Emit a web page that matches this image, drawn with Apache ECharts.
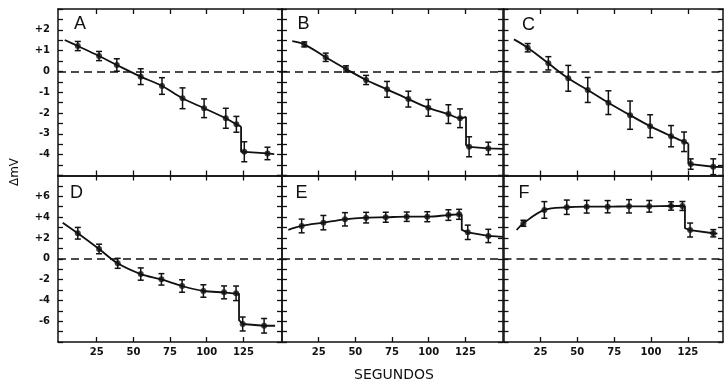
<!DOCTYPE html>
<html>
<head>
<meta charset="utf-8">
<script src="https://cdn.jsdelivr.net/npm/echarts@6/dist/echarts.min.js"></script>
<style>
html, body { margin: 0; padding: 0; background: #fff; }
#chart { width: 727px; height: 381px; }
</style>
</head>
<body>
<div id="chart"></div>
<script>
// values (seconds, mV, +/- error)
const timesA = [12.1, 26.6, 38.7, 55.0, 69.5, 83.5, 98.2, 113.0, 120.2, 125.6, 141.4];
const meanA = [1.22, 0.74, 0.31, -0.25, -0.70, -1.29, -1.77, -2.25, -2.54, -3.86, -3.94];
const errA = [0.22, 0.22, 0.3, 0.38, 0.4, 0.5, 0.45, 0.48, 0.38, 0.48, 0.3];

const timesB = [15.2, 29.8, 43.6, 57.3, 71.6, 86.1, 99.7, 113.4, 121.3, 127.5, 140.6];
const meanB = [1.30, 0.68, 0.12, -0.41, -0.86, -1.33, -1.75, -2.05, -2.25, -3.62, -3.70];
const errB = [0.12, 0.2, 0.15, 0.22, 0.38, 0.38, 0.4, 0.45, 0.45, 0.48, 0.3];

const timesC = [16.4, 30.4, 43.9, 57.1, 71.1, 85.8, 99.4, 113.6, 122.4, 126.9, 142.2];
const meanC = [1.14, 0.39, -0.33, -0.89, -1.50, -2.10, -2.63, -3.11, -3.38, -4.45, -4.58];
const errC = [0.2, 0.32, 0.62, 0.6, 0.57, 0.68, 0.55, 0.51, 0.47, 0.25, 0.38];

const timesD = [12.1, 26.6, 39.3, 55.0, 69.1, 83.2, 97.7, 111.8, 120.0, 124.5, 139.1];
const meanD = [2.45, 0.94, -0.44, -1.47, -1.98, -2.62, -3.10, -3.23, -3.32, -6.27, -6.44];
const errD = [0.56, 0.46, 0.48, 0.59, 0.55, 0.6, 0.6, 0.62, 0.7, 0.67, 0.7];

const timesE = [13.4, 28.2, 42.9, 57.3, 70.7, 85.0, 99.0, 113.4, 120.7, 126.6, 140.6];
const meanE = [3.15, 3.47, 3.79, 3.95, 3.99, 4.04, 4.04, 4.20, 4.27, 2.54, 2.19];
const errE = [0.66, 0.69, 0.64, 0.51, 0.48, 0.45, 0.48, 0.51, 0.48, 0.69, 0.64];

const timesF = [13.5, 27.7, 42.9, 56.4, 70.6, 85.1, 98.8, 113.6, 121.3, 126.5, 142.2];
const meanF = [3.41, 4.69, 4.95, 5.0, 5.0, 5.04, 5.04, 5.07, 5.07, 2.76, 2.45];
const errF = [0.29, 0.8, 0.69, 0.61, 0.59, 0.64, 0.56, 0.4, 0.43, 0.67, 0.35];

// fitted curve: start knot, drop [x, before, after], end knot
const fitStartA = [3.2, 1.51], dropA = [123.4, -2.65, -3.86], fitEndA = [146, -3.97];
const fitStartB = [7.0, 1.46], dropB = [125.4, -2.18, -3.54], fitEndB = [150.6, -3.72];
const fitStartC = [7.1, 1.54], dropC = [125.3, -3.46, -4.42], fitEndC = [148.8, -4.6];
const fitStartD = [1.8, 3.47], dropD = [122, -3.32, -5.9], fitEndD = [146.6, -6.44];
const fitStartE = [4.3, 2.77], dropE = [122.5, 4.27, 2.77], fitEndE = [150.6, 2.1];
const fitStartF = [8.9, 2.76], dropF = [123, 5.07, 2.93], fitEndF = [145, 2.42];

const xTicks = [25, 50, 75, 100, 125];
const panelNames = ['A', 'B', 'C', 'D', 'E', 'F'];

// layout
const cols = [
  { left: 58, width: 224, min: -1.4, max: 151.3 },
  { left: 282, width: 221, min: 0, max: 150.6 },
  { left: 503.5, width: 219.5, min: 0, max: 148.8 }
];
const rows = [
  { top: 9, height: 166.5, min: -5, max: 3, interval: 0.5, lo: -4, hi: 2, step: 1 },
  { top: 175.5, height: 166.5, min: -8, max: 8, interval: 1, lo: -6, hi: 6, step: 2 }
];
const letterPos = [[80, 24], [303.5, 24], [528.5, 25], [76.5, 193.5], [301.5, 193.5], [524, 193.5]];

const INK = '#111';
const FONT = 'DejaVu Sans';

const panels = [
  [timesA, meanA, errA, fitStartA, dropA, fitEndA],
  [timesB, meanB, errB, fitStartB, dropB, fitEndB],
  [timesC, meanC, errC, fitStartC, dropC, fitEndC],
  [timesD, meanD, errD, fitStartD, dropD, fitEndD],
  [timesE, meanE, errE, fitStartE, dropE, fitEndE],
  [timesF, meanF, errF, fitStartF, dropF, fitEndF]
];

function signed(v) {
  if (v > 0) return '+' + v;
  return String(v);
}

function renderErr(params, api) {
  const x = api.value(0), y = api.value(1), e = api.value(2);
  const a = api.coord([x, y + e]);
  const b = api.coord([x, y - e]);
  const c = 3;
  const st = { stroke: INK, lineWidth: 1.5 };
  return {
    type: 'group',
    children: [
      { type: 'line', shape: { x1: a[0], y1: a[1], x2: b[0], y2: b[1] }, style: st },
      { type: 'line', shape: { x1: a[0] - c, y1: a[1], x2: a[0] + c, y2: a[1] }, style: st },
      { type: 'line', shape: { x1: b[0] - c, y1: b[1], x2: b[0] + c, y2: b[1] }, style: st }
    ]
  };
}

const grid = [], xAxis = [], yAxis = [], series = [], graphic = [];

panels.forEach(function (p, i) {
  const row = rows[Math.floor(i / 3)];
  const col = cols[i % 3];
  const first = i % 3 === 0;
  const bottom = i >= 3;
  grid.push({ left: col.left, top: row.top, width: col.width, height: row.height, outerBoundsMode: 'none' });

  const line = { show: true, onZero: false, lineStyle: { color: INK, width: 1.5 } };
  const tick = { show: true, inside: true, length: 5, lineStyle: { color: INK, width: 1.3 } };
  const lab = { color: INK, fontFamily: FONT, fontWeight: 'bold', fontSize: 10 };

  ['bottom', 'top'].forEach(function (pos) {
    xAxis.push({
      type: 'value', gridIndex: i, position: pos, min: col.min, max: col.max,
      axisLine: line,
      axisTick: Object.assign({ customValues: xTicks }, tick),
      axisLabel: Object.assign({ show: bottom && pos === 'bottom', customValues: xTicks, margin: 5 }, lab),
      splitLine: { show: false }
    });
  });
  ['left', 'right'].forEach(function (pos) {
    yAxis.push({
      type: 'value', gridIndex: i, position: pos, min: row.min, max: row.max, interval: row.interval,
      axisLine: line,
      axisTick: tick,
      axisLabel: Object.assign({
        show: first && pos === 'left', margin: 8,
        formatter: function (v) {
          const r = Math.round(v * 100) / 100;
          if (r < row.lo || r > row.hi) return '';
          if (Math.abs(r / row.step - Math.round(r / row.step)) > 1e-6) return '';
          return signed(r);
        }
      }, lab),
      splitLine: { show: false }
    });
  });

  const t = p[0], m = p[1], e = p[2], start = p[3], drop = p[4], end = p[5];
  const pre = [start];
  for (let k = 0; k < 9; k++) pre.push([t[k], m[k]]);
  pre.push([drop[0], drop[1]]);
  const post = [[drop[0], drop[1]], [drop[0], drop[2]]];
  for (let k = 9; k < t.length; k++) post.push([t[k], m[k]]);
  post.push(end);

  const ax = { xAxisIndex: 2 * i, yAxisIndex: 2 * i };
  series.push(Object.assign({
    type: 'line', data: pre, smooth: 0.35, symbol: 'none',
    lineStyle: { color: INK, width: 1.8 }, z: 3
  }, ax));
  series.push(Object.assign({
    type: 'line', data: post, smooth: false, symbol: 'none',
    lineStyle: { color: INK, width: 1.8 }, z: 3
  }, ax));
  series.push(Object.assign({
    type: 'custom', renderItem: renderErr,
    data: t.map(function (x, k) { return [x, m[k], e[k]]; }),
    encode: { x: 0, y: 1 }, z: 4
  }, ax));
  series.push(Object.assign({
    type: 'scatter', symbol: 'circle', symbolSize: 6,
    data: t.map(function (x, k) { return [x, m[k]]; }),
    itemStyle: { color: INK }, z: 5,
    markLine: {
      silent: true, symbol: 'none', label: { show: false },
      lineStyle: { color: INK, width: 1.5, type: [8, 5] },
      data: [{ yAxis: 0 }]
    }
  }, ax));

  graphic.push({
    type: 'text', x: letterPos[i][0], y: letterPos[i][1],
    style: { text: panelNames[i], font: '18px "Liberation Sans"', fill: INK, textAlign: 'center', textVerticalAlign: 'middle' }
  });
});

graphic.push({
  type: 'text', x: 15, y: 172, rotation: Math.PI / 2,
  style: { text: 'ΔmV', font: '12px "DejaVu Sans"', fill: INK, textAlign: 'center', textVerticalAlign: 'middle' }
});
graphic.push({
  type: 'text', x: 394, y: 375,
  style: { text: 'SEGUNDOS', font: '14px "DejaVu Sans"', fill: INK, textAlign: 'center', textVerticalAlign: 'middle' }
});

const chart = echarts.init(document.getElementById('chart'), null, { renderer: 'canvas' });
chart.setOption({
  animation: false,
  backgroundColor: '#fff',
  grid: grid,
  xAxis: xAxis,
  yAxis: yAxis,
  series: series,
  graphic: graphic
});
</script>
</body>
</html>
